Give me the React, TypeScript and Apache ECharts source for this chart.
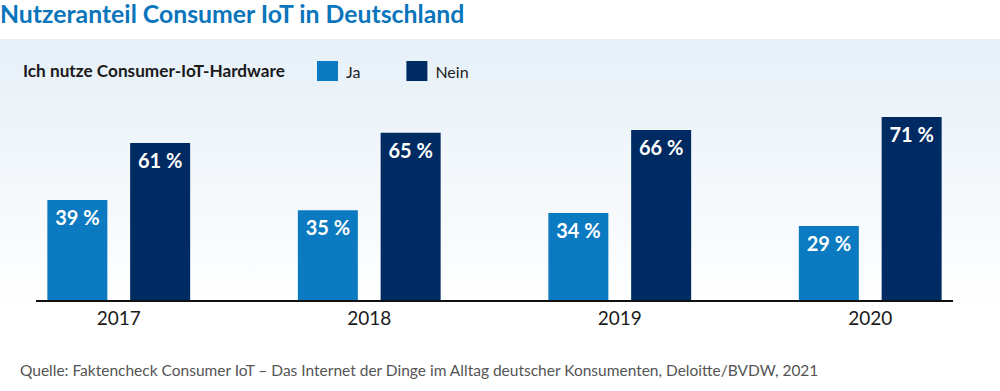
import React, { useEffect, useRef } from "react";
import * as echarts from "echarts";

const years = ["2017", "2018", "2019", "2020"];
const ja = [39, 35, 34, 29];
const nein = [61, 65, 66, 71];
const titleText = "Nutzeranteil Consumer IoT in Deutschland";
const legendTitle = "Ich nutze Consumer-IoT-Hardware";
const sourceText =
  "Quelle: Faktencheck Consumer IoT – Das Internet der Dinge im Alltag deutscher Konsumenten, Deloitte/BVDW, 2021";

const FONT = "Lato, 'Noto Sans', sans-serif";
const OFF = 10; // inner chart is shifted left by this many pixels

export default function App() {
  const ref = useRef<HTMLDivElement>(null);
  useEffect(() => {
    document.body.style.margin = "0";
    const chart = echarts.init(ref.current!, null, { renderer: "svg" });
    const label = {
      show: true,
      position: "insideTop",
      distance: 7,
      color: "#ffffff",
      fontSize: 20,
      fontWeight: "bold",
      fontFamily: FONT,
      formatter: "{c} %",
    };
    chart.setOption({
      animation: false,
      textStyle: { fontFamily: FONT },
      legend: {
        left: 317 + OFF,
        top: 61,
        padding: 0,
        itemWidth: 21,
        itemHeight: 20,
        itemGap: 46,
        icon: "rect",
        textStyle: { fontSize: 16, color: "#222", fontFamily: FONT, padding: [0, 0, 0, 3] },
        data: ["Ja", "Nein"],
      },
      graphic: [
        {
          type: "rect",
          z: -10,
          shape: { x: 0, y: 39, width: 1000 + 2 * OFF, height: 270 },
          style: {
            fill: new echarts.graphic.LinearGradient(0, 0, 0, 1, [
              { offset: 0, color: "#e6f0f8" },
              { offset: 1, color: "#ffffff" },
            ]),
          },
        },
        {
          type: "text",
          x: OFF,
          y: 1,
          style: {
            text: titleText,
            fill: "#0b75bb",
            fontSize: 24.8,
            fontWeight: "bold",
            fontFamily: FONT,
          },
        },
        {
          type: "text",
          x: 23 + OFF,
          y: 61.5,
          style: {
            text: legendTitle,
            fill: "#1a1a1a",
            fontSize: 17.2,
            fontWeight: "bold",
            fontFamily: FONT,
          },
        },
        {
          type: "line",
          z: 10,
          shape: { x1: 36 + OFF, y1: 301, x2: 953 + OFF, y2: 301 },
          style: { stroke: "#111111", lineWidth: 2 },
        },
        {
          type: "text",
          x: 20 + OFF,
          y: 362,
          style: { text: sourceText, fill: "#555555", fontSize: 15.5, fontFamily: FONT },
        },
      ],
      grid: { left: OFF - 6.5, top: 42, width: 1002, height: 259 },
      xAxis: {
        type: "category",
        data: years,
        axisLine: { show: false },
        axisTick: { show: false },
        axisLabel: { fontSize: 19, color: "#1a1a1a", margin: 7, fontFamily: FONT },
      },
      yAxis: { type: "value", min: 0, max: 100, show: false, splitLine: { show: false } },
      series: [
        { name: "Ja", type: "bar", data: ja, barWidth: 60, barGap: "38%", itemStyle: { color: "#0b7ac0" }, label },
        { name: "Nein", type: "bar", data: nein, barWidth: 60, barGap: "38%", itemStyle: { color: "#002a62" }, label },
      ],
    });
    return () => chart.dispose();
  }, []);
  return (
    <div style={{ width: 1000, height: 391, overflow: "hidden", position: "relative" }}>
      <div
        ref={ref}
        style={{ position: "absolute", left: -OFF, top: 0, width: 1000 + 2 * OFF, height: 391 }}
      />
    </div>
  );
}
